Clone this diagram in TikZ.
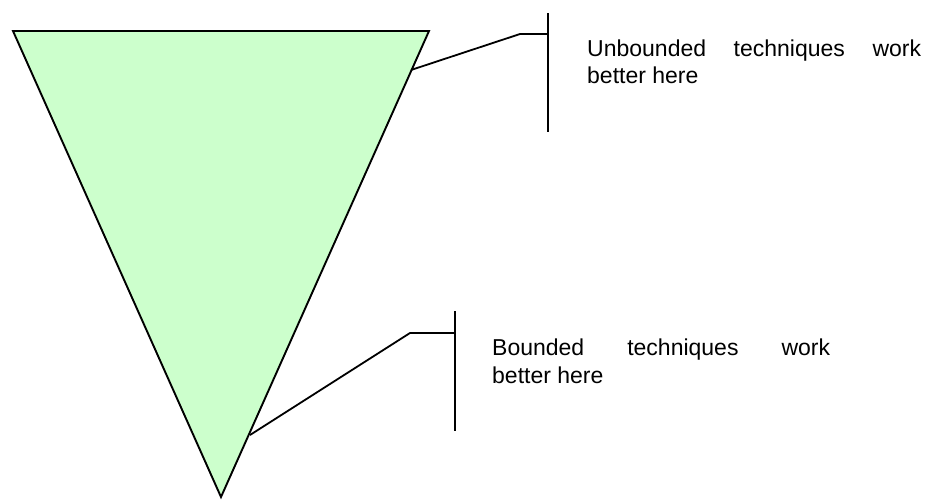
\documentclass[tikz,border=0pt]{standalone}
\usepackage{fontspec}
\setmainfont{Liberation Sans}
\begin{document}
\begin{tikzpicture}[x=1pt,y=-1pt,
  tri/.style={draw=black,fill={rgb,255:red,204;green,255;blue,204},line width=1.9pt,line join=miter},
  conn/.style={draw=black,line width=1.8pt},
  lbl/.style={anchor=base west,inner sep=0pt,font=\fontsize{23}{27}\selectfont}]
\useasboundingbox (0,0) rectangle (930,499);
% triangle
\coordinate (tl) at (13,31);
\coordinate (tr) at (429,31);
\coordinate (tb) at (221,497);
\path[tri] (tl) -- (tr) -- (tb) -- cycle;
% upper callout
\coordinate (a1) at (411,70);
\coordinate (a2) at (520,34);
\coordinate (a3) at (548,34);
\coordinate (at) at (548,13);
\coordinate (ab) at (548,132);
\draw[conn] (a1) -- (a2) -- (a3);
\draw[conn] (at) -- (ab);
\node[lbl] (u1) at (587,56) {\makebox[334pt][s]{Unbounded techniques work}};
\node[lbl] (u2) at (587,83) {better here};
% lower callout
\coordinate (b1) at (250,435);
\coordinate (b2) at (410,333);
\coordinate (b3) at (455,333);
\coordinate (bt) at (455,311);
\coordinate (bb) at (455,431);
\draw[conn] (b1) -- (b2) -- (b3);
\draw[conn] (bt) -- (bb);
\node[lbl] (l1) at (492,355) {\makebox[338pt][s]{Bounded techniques work}};
\node[lbl] (l2) at (492,383) {better here};
\end{tikzpicture}
\end{document}
